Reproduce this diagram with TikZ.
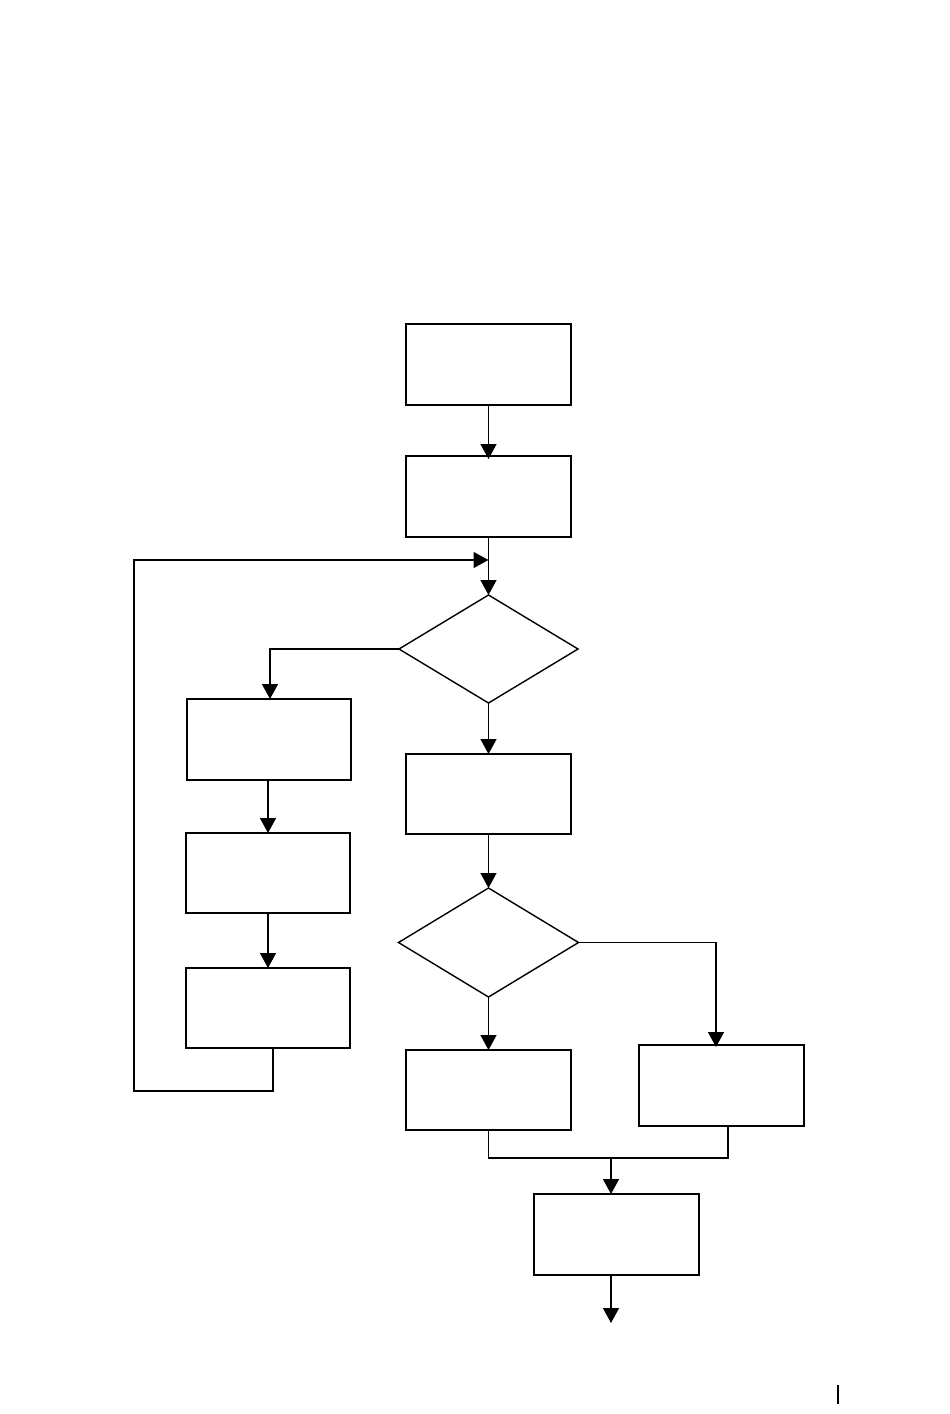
\documentclass[tikz,border=0pt]{standalone}
\usetikzlibrary{shapes.geometric,arrows.meta}
\begin{document}
\begin{tikzpicture}[x=1pt,y=-1pt,
  line width=1.4pt,
  boxnode/.style={draw,rectangle,minimum width=165pt,minimum height=81pt,inner sep=0pt,outer sep=0pt},
  decnode/.style={draw,diamond,minimum width=179pt,minimum height=108pt,inner sep=0pt,outer sep=0pt},
  arr/.style={-{Triangle[width=16pt,length=15pt]}},
  link/.style={line join=miter}]
\useasboundingbox[fill=white] (0,0) rectangle (950,1414);
% nodes
\node[boxnode] (b1) at (488.5,364.5) {};
\node[boxnode] (b2) at (488.5,496.5) {};
\node[decnode] (d1) at (488.5,649) {};
\node[boxnode,minimum width=164pt] (l1) at (269,739.5) {};
\node[boxnode,minimum width=164pt,minimum height=80pt] (l2) at (268,873) {};
\node[boxnode,minimum width=164pt,minimum height=80pt] (l3) at (268,1008) {};
\node[boxnode,minimum height=80pt] (m1) at (488.5,794) {};
\node[decnode,minimum width=180pt,minimum height=109pt] (d2) at (488.5,942.5) {};
\node[boxnode,minimum height=80pt] (m2) at (488.5,1090) {};
\node[boxnode] (r1) at (721.5,1085.5) {};
\node[boxnode] (f1) at (616.5,1234.5) {};
% helper coordinates
\coordinate (join) at (488.5,560);
\coordinate (loopc) at (134,1091);
\coordinate (mrg) at (611,1158);
\coordinate (endp) at (611,1323);
% connectors
\draw[arr] (b1.south) -- ([yshift=-3pt]b2.north);
\draw[arr] (b2.south) -- (d1.north);
\draw[arr] (d1.west) -| ([xshift=1pt]l1.north);
\draw[arr] (l1.south -| l2.north) -- (l2.north);
\draw[arr] (l2.south) -- (l3.north);
\draw[arr,link] ([xshift=5pt]l3.south) |- (loopc) |- (join);
\draw[arr] (d1.south) -- (m1.north);
\draw[arr] (m1.south) -- (d2.north);
\draw[arr] (d2.east) -| ([xshift=-5.5pt,yshift=-2pt]r1.north);
\draw[arr] (d2.south) -- (m2.north);
\draw[link] (m2.south) |- (mrg) -| ([xshift=6.5pt]r1.south);
\draw[arr] (mrg) -- (f1.north -| mrg);
\draw[arr] (f1.south -| endp) -- (endp);
% page mark
\draw (838,1385) -- (838,1404);
\end{tikzpicture}
\end{document}
